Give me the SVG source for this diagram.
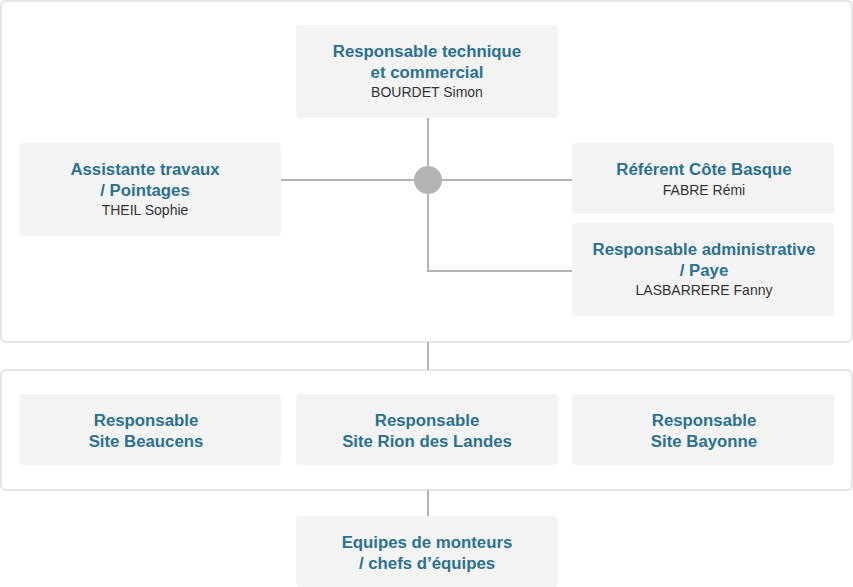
<svg xmlns="http://www.w3.org/2000/svg" width="853" height="587" viewBox="0 0 853 587">
<style>
.box{fill:#ffffff;stroke:#dddddd;stroke-width:1.5}
.node{fill:#f4f4f4}
.t{font-family:"Liberation Sans",Arial,sans-serif;font-size:16.8px;font-weight:bold;fill:#2b7191;text-anchor:middle}
.n{font-family:"Liberation Sans",Arial,sans-serif;font-size:14px;fill:#333333;text-anchor:middle}
.c{stroke:#b3b3b3;stroke-width:2;fill:none}
</style>
<rect width="853" height="587" fill="#ffffff"/>
<rect class="box" x="1" y="1" width="851" height="341" rx="5"/>
<rect class="box" x="1" y="370" width="851" height="120" rx="5"/>
<g id="connectors">
<path class="c" d="M428 117V271H572"/>
<path class="c" d="M280 180H572"/>
<path class="c" d="M428 342V370"/>
<path class="c" d="M428 490V516"/>
<circle cx="428" cy="180" r="14" fill="#b3b3b3"/>
</g>
<g id="n-tech">
<rect class="node" x="296" y="25" width="262" height="93" rx="4"/>
<text class="t" x="427" y="57">Responsable technique</text>
<text class="t" x="427" y="78">et commercial</text>
<text class="n" x="427" y="97">BOURDET Simon</text>
</g>
<g id="n-assist">
<rect class="node" x="19" y="143" width="262" height="93" rx="4"/>
<text class="t" x="145" y="175">Assistante travaux</text>
<text class="t" x="145" y="196">/ Pointages</text>
<text class="n" x="145" y="215">THEIL Sophie</text>
</g>
<g id="n-ref">
<rect class="node" x="572" y="143" width="262" height="71" rx="4"/>
<text class="t" x="704" y="175">Référent Côte Basque</text>
<text class="n" x="704" y="195">FABRE Rémi</text>
</g>
<g id="n-admin">
<rect class="node" x="572" y="223" width="262" height="93" rx="4"/>
<text class="t" x="704" y="255">Responsable administrative</text>
<text class="t" x="704" y="276">/ Paye</text>
<text class="n" x="704" y="295">LASBARRERE Fanny</text>
</g>
<g id="n-beaucens">
<rect class="node" x="19" y="394" width="262" height="71" rx="4"/>
<text class="t" x="146" y="426">Responsable</text>
<text class="t" x="146" y="447">Site Beaucens</text>
</g>
<g id="n-rion">
<rect class="node" x="296" y="394" width="262" height="71" rx="4"/>
<text class="t" x="427" y="426">Responsable</text>
<text class="t" x="427" y="447">Site Rion des Landes</text>
</g>
<g id="n-bayonne">
<rect class="node" x="572" y="394" width="262" height="71" rx="4"/>
<text class="t" x="704" y="426">Responsable</text>
<text class="t" x="704" y="447">Site Bayonne</text>
</g>
<g id="n-equipes">
<rect class="node" x="296" y="516" width="262" height="71" rx="4"/>
<text class="t" x="427" y="548">Equipes de monteurs</text>
<text class="t" x="427" y="569">/ chefs d’équipes</text>
</g>
</svg>
